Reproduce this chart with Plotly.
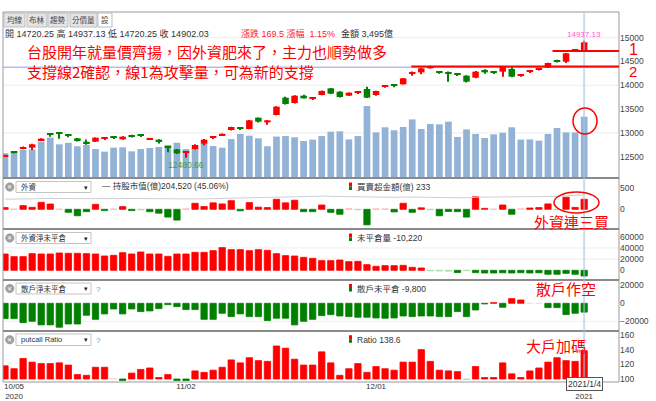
import plotly.graph_objects as go

# ---------------- data ----------------
x_ticks = [1, 20, 41, 64]
x_tick_labels = ["10/05<br>2020", "11/02", "12/01", " <br>2021"]
last_date = "2021/1/4"

price_ticks = [12500, 13000, 13500, 14000, 14500, 15000]

price_open = [12510, 12600, 12662, 12690, 12844, 12975, 12990, 12945, 12886, 12815,
              12815, 12880, 12900, 12865, 12950, 12945, 12870, 12858, 12695, 12655,
              12580, 12662, 12774, 12905, 12955, 13061, 13098, 13082, 13320, 13222,
              13376, 13740, 13628, 13782, 13712, 13796, 13936, 13866, 13782, 13845,
              13922, 13796, 13975, 14000, 14020, 14240, 14272, 14356, 14280, 14245,
              14235, 14202, 14160, 14321, 14268, 14286, 14342, 14210, 14280, 14335,
              14370, 14515, 14496, 14730, 14720.25]
price_close = [12525, 12590, 12704, 12760, 12879, 12968, 12978, 12935, 12830, 12775,
               12900, 12890, 12893, 12921, 12915, 12938, 12885, 12810, 12688, 12570,
               12595, 12746, 12858, 12915, 12970, 13124, 13090, 13264, 13236, 13264,
               13551, 13607, 13782, 13726, 13722, 13880, 13824, 13754, 13845, 13855,
               13740, 13880, 13990, 13992, 14146, 14252, 14356, 14405, 14272, 14237,
               14230, 14076, 14286, 14272, 14262, 14391, 14181, 14220, 14290, 14345,
               14468, 14505, 14671, 14735, 14902.03]
price_high = [12540, 12620, 12715, 12770, 12890, 12990, 12995, 12955, 12895, 12860,
              12905, 12900, 12915, 12930, 12960, 12960, 12895, 12865, 12700, 12660,
              12600, 12760, 12870, 12925, 12990, 13130, 13120, 13270, 13325, 13270,
              13560, 13760, 13790, 13800, 13735, 13890, 13945, 13875, 13850, 13865,
              13970, 13885, 14000, 14025, 14155, 14290, 14365, 14410, 14300, 14290,
              14245, 14210, 14300, 14335, 14280, 14400, 14380, 14230, 14310, 14360,
              14475, 14535, 14680, 14750, 14937.13]
price_low = [12500, 12570, 12655, 12640, 12835, 12920, 12875, 12910, 12820, 12750,
             12810, 12870, 12880, 12855, 12905, 12920, 12860, 12780, 12595, 12555,
             12480.66, 12650, 12740, 12870, 12945, 13050, 13060, 13075, 13220, 13170,
             13370, 13595, 13620, 13720, 13700, 13790, 13815, 13745, 13775, 13835,
             13735, 13780, 13950, 13960, 14015, 14200, 14230, 14350, 14240, 14076,
             14215, 14060, 14150, 14240, 14255, 14180, 14170, 14180, 14270, 14310,
             14365, 14480, 14470, 14700, 14720.25]
volume = [1410, 1460, 1600, 1630, 2070, 2300, 1920, 2010, 1810, 1880,
          1650, 1500, 1730, 1750, 1520, 1650, 1710, 1770, 1880, 2010,
          1650, 1690, 1980, 1820, 1730, 2220, 2510, 2410, 2260, 1810,
          2360, 2390, 2320, 2110, 2190, 2390, 2640, 2660, 2200, 2390,
          4100, 2600, 2890, 2720, 2910, 3340, 2790, 3080, 3060, 3210,
          2340, 2770, 2510, 2280, 2490, 2580, 2890, 2190, 2200, 2130,
          2510, 2850, 2600, 2600, 3495]

foreign_net = [40, 5, 85, 46, 162, 123, 3, -70, -150, -55,
               115, -30, 4, 62, -30, -10, -55, -90, -180, -250,
               12, 140, 65, 150, 125, 200, -35, 155, 50, 40,
               232, 150, 210, -55, -55, 100, -70, -115, 15, -10,
               -360, 10, 10, -60, 140, -70, 35, -10, -150, -50,
               -55, -180, 290, 22, 4, 100, -115, 10, 30, 40,
               125, -10, 280, 45, 233]
foreign_hold = [186500, 186000, 187200, 187800, 189500, 190200, 189800, 189500, 188900, 188400,
                189200, 188900, 189000, 189600, 189300, 189100, 188600, 188000, 186900, 185200,
                185100, 186800, 187500, 189000, 190000, 191900, 191500, 193200, 193600, 194000,
                196400, 197800, 199600, 199000, 198500, 199600, 198800, 197900, 198100, 198000,
                194500, 194700, 194900, 194500, 196000, 195500, 195900, 195700, 194200, 193900,
                193600, 192000, 195000, 195200, 195300, 196300, 195300, 195500, 196000, 196800,
                198300, 198400, 201300, 202100, 204520]
foreign_oi = [29150, 24400, 24400, 29750, 29150, 29150, 30940, 30350, 30350, 29750,
              29150, 25600, 26800, 31500, 29150, 32700, 29150, 29150, 25000, 29150,
              29150, 32100, 32100, 35100, 40500, 36900, 36900, 35100, 36900, 35700,
              29750, 26200, 25600, 23200, 21400, 17250, 17250, 18400, 15500, 16000,
              10100, 7100, 8300, 8300, 8900, 5350, 4150, -800, -1200, -1500,
              -4000, -500, -4200, -4800, -4800, -4500, -4800, -4300, -4800, -4500,
              -7100, -7100, -5400, -7100, -10220]
retail_oi = [-17000, -17000, -21500, -20000, -24000, -24000, -26600, -23000, -23000, -13300,
             -17800, -11800, -6300, -11800, -6300, -9200, -8500, -5900, -1500, -3700,
             -7000, -7000, -17800, -17800, -11100, -14800, -11800, -14800, -14800, -19200,
             -16600, -16600, -24000, -20000, -17800, -13700, -12600, -14100, -14800, -15500,
             -15500, -16300, -16600, -16300, -14100, -14800, -14100, -14100, -14800, -14800,
             -9200, -14800, -7400, -700, 700, -4400, 5200, 3700, 100, 100,
             -4800, -4800, -12600, -11100, -9800]
pc_ratio = [118, 114, 128, 123, 121, 121, 122, 119, 106, 105,
            116, 116, 100.4, 98, 108, 113, 115, 102, 106, 98,
            98, 111, 109, 112, 116, 126, 122, 129, 125, 124,
            145, 142, 127, 119, 119, 137, 122, 105, 114, 121,
            109, 117, 114, 112, 123, 123, 140, 124, 112, 111,
            110, 99.4, 117, 102, 102, 122, 107, 102, 111, 115,
            123, 129, 125, 124, 138.6]

# ---------------- geometry helpers ----------------
W_PX, H_PX = 656, 401
L, R, T, B = 3, 619, 28, 382
PW, PH = R - L, B - T


def px(x):
    return (x - L) / PW


def py(y):
    return (B - y) / PH


RED, GREEN = "#ff0000", "#008000"
idx = list(range(len(price_open)))

fig = go.Figure()

# volume (behind candles)
fig.add_trace(go.Bar(x=idx, y=volume, yaxis="y", width=0.74,
                     marker=dict(color="#92b2d6", line=dict(width=0)), hoverinfo="skip"))

# candles drawn as wick + body bars on the price axis
up = [c >= o for o, c in zip(price_open, price_close)]
c_col = [RED if u else GREEN for u in up]
fig.add_trace(go.Bar(x=idx, y=[h - l for h, l in zip(price_high, price_low)], base=price_low,
                     yaxis="y6", width=0.12, marker=dict(color=c_col, line=dict(width=0))))
fig.add_trace(go.Bar(x=idx, y=[max(abs(c - o), 25) for o, c in zip(price_open, price_close)],
                     base=[min(o, c) for o, c in zip(price_open, price_close)],
                     yaxis="y6", width=0.72, marker=dict(color=c_col, line=dict(width=0))))


def colors(vals, thr, zero=0, light_pos="#ffb6b6", light_neg="#a6d8a6"):
    out = []
    for v in vals:
        d = v - zero
        if d >= thr:
            out.append(RED)
        elif d >= 0:
            out.append(light_pos)
        elif d <= -thr:
            out.append(GREEN)
        else:
            out.append(light_neg)
    return out


fc = colors(foreign_net, 20)
fig.add_trace(go.Bar(x=idx, y=foreign_net, yaxis="y2", width=0.7,
                     marker=dict(color=fc, line=dict(color=fc, width=0.8))))
fig.add_trace(go.Scatter(x=idx, y=foreign_hold, yaxis="y7", mode="lines",
                         line=dict(color="#cfcfcf", width=1)))
oc = colors(foreign_oi, 2000)
fig.add_trace(go.Bar(x=idx, y=foreign_oi, yaxis="y3", width=0.7,
                     marker=dict(color=oc, line=dict(color=oc, width=0.8))))
rc = colors(retail_oi, 300, light_pos="#e2e2e2", light_neg="#e2e2e2")
fig.add_trace(go.Bar(x=idx, y=retail_oi, yaxis="y4", width=0.7,
                     marker=dict(color=rc, line=dict(color=rc, width=0.8))))
pc = colors(pc_ratio, 1, zero=100, light_pos="#f6d4d4")
fig.add_trace(go.Bar(x=idx, y=[v - 100 for v in pc_ratio], base=100, yaxis="y5", width=0.7,
                     marker=dict(color=pc, line=dict(color=pc, width=0.8))))

# ---------------- axes ----------------
d_p = py(178)
d_2 = py(229)
d_3 = py(280)
d_4 = py(331)

tickfont = dict(size=8.5, color="#444", family="Liberation Sans, Arial")


def yax(domain, rng, tickvals, **kw):
    d = dict(range=rng, tickvals=tickvals, side="right", anchor="x",
             showgrid=False, zeroline=False, showline=False, ticks="", automargin=False,
             tickfont=tickfont, fixedrange=True, exponentformat="none",
             separatethousands=False, tickformat="d")
    if domain is not None:
        d["domain"] = domain
    d.update(kw)
    return d


fig.update_layout(
    template="none",
    width=W_PX, height=H_PX,
    margin=dict(l=L, r=W_PX - R, t=T, b=H_PX - B, autoexpand=False),
    paper_bgcolor="white", plot_bgcolor="white",
    showlegend=False, barmode="overlay",
    font=dict(family="Liberation Sans, Arial, Noto Sans CJK TC", size=9, color="#333"),
    xaxis=dict(domain=[0, 1], range=[-0.221, 67.85], anchor="y5", tickvals=x_ticks,
               ticktext=x_tick_labels, showgrid=False, zeroline=False, showline=False,
               ticks="", automargin=False, tickfont=dict(size=8, color="#333"),
               ticklabelstandoff=-2, fixedrange=True),
    yaxis=dict(domain=[d_p, 1], range=[0, 8550], visible=False, fixedrange=True),
    yaxis6=yax(None, [12053, 15203], price_ticks, overlaying="y"),
    yaxis2=yax([d_2, d_p], [-456, 725], [0, 500]),
    yaxis7=dict(overlaying="y2", range=[58180, 277690], visible=False, fixedrange=True),
    yaxis3=yax([d_3, d_2], [-17320, 73760], [0, 20000, 40000, 60000]),
    yaxis4=yax([d_4, d_3], [-30780, 25890], [-20000, 0, 20000]),
    yaxis5=yax([0, d_4], [95.9, 165.4], [100, 120, 140, 160]),
)

shapes = []
ann = []

# faint grid lines
for v in [13000, 14000, 15000]:
    shapes.append(dict(type="line", xref="paper", x0=0, x1=1, yref="y6", y0=v, y1=v,
                       line=dict(color="#ececec", width=1), layer="below"))
for v in [20000, 40000]:
    shapes.append(dict(type="line", xref="paper", x0=0, x1=1, yref="y3", y0=v, y1=v,
                       line=dict(color="#eeeeee", width=1), layer="below"))
for v in [-20000]:
    shapes.append(dict(type="line", xref="paper", x0=0, x1=1, yref="y4", y0=v, y1=v,
                       line=dict(color="#eeeeee", width=1), layer="below"))

# horizontal crosshair line
shapes.append(dict(type="line", xref="paper", x0=0, x1=1, yref="y6", y0=14377, y1=14377,
                   line=dict(color="rgba(150,170,230,0.75)", width=1.5), layer="below"))

# frame and separators
shapes.append(dict(type="rect", xref="paper", yref="paper", x0=px(3), x1=px(619),
                   y0=py(382), y1=py(12), line=dict(color="#9a9a9a", width=1)))
for yy in [178, 229, 280, 331]:
    shapes.append(dict(type="line", xref="paper", yref="paper", x0=px(3), x1=px(619),
                       y0=py(yy), y1=py(yy), line=dict(color="#8a8a8a", width=2)))

# vertical crosshair at last bar
shapes.append(dict(type="line", xref="x", x0=64, x1=64, yref="paper", y0=py(386), y1=py(12),
                   line=dict(color="rgba(170,195,230,0.6)", width=2)))

# red support lines
shapes.append(dict(type="line", xref="x", x0=60.5, x1=67.85, yref="y6", y0=14720, y1=14720,
                   line=dict(color=RED, width=2)))
shapes.append(dict(type="line", xref="x", x0=44.9, x1=67.85, yref="y6", y0=14395, y1=14395,
                   line=dict(color=RED, width=2)))

# red circles
shapes.append(dict(type="circle", xref="paper", yref="paper", x0=px(573), x1=px(597),
                   y0=py(134), y1=py(108), line=dict(color=RED, width=1.5)))
shapes.append(dict(type="circle", xref="paper", yref="paper", x0=px(554), x1=px(599),
                   y0=py(213), y1=py(192), line=dict(color=RED, width=1.5)))


def text(x, y, s, size=8, color="#333", xanchor="left", family=None, **kw):
    d = dict(xref="paper", yref="paper", x=px(x), y=py(y), text=s, showarrow=False,
             xanchor=xanchor, yanchor="middle", font=dict(size=size, color=color))
    if family:
        d["font"]["family"] = family
    d.update(kw)
    ann.append(d)


CJK = "Noto Sans CJK TC"

# tabs
tabs = [("均線", 4, 25), ("布林", 27, 47), ("趨勢", 48, 68), ("分價量", 70, 97), ("設", 98, 112)]
for i, (t, x0, x1) in enumerate(tabs):
    shapes.append(dict(type="rect", xref="paper", yref="paper", x0=px(x0), x1=px(x1),
                       y0=py(27), y1=py(13), fillcolor="#ffffff" if i == 4 else "#e4e4e4",
                       line=dict(color="#bdbdbd", width=1)))
    text((x0 + x1) / 2, 20, t, size=7.5, xanchor="center", family=CJK, color="#444")

# info line
nb = "\u00a0"
text(3, 33.5, "開 14720.25 高 14937.13 低 14720.25 收 14902.03", size=9, color="#333")
text(239, 33.5, f"漲跌 169.5 漲幅{nb}{nb}1.15%", size=9, color="#ff2020")
text(339, 33.5, "金額 3,495億", size=9, color="#333")

# price annotations
ann.append(dict(xref="x", yref="y6", x=64, y=14937.13, text="14937.13", showarrow=False,
                xanchor="center", yanchor="bottom", font=dict(size=8, color="#ff5ac8")))
ann.append(dict(xref="x", yref="y6", x=20, y=12480.66, text="12480.66", showarrow=False,
                xanchor="center", yanchor="top", font=dict(size=8.5, color="#3f9a3f")))

text(25, 51, "台股開年就量價齊揚，因外資肥來了，主力也順勢做多", size=15, color=RED, family=CJK)
text(25, 71, "支撐線2確認，線1為攻擊量，可為新的支撐", size=15, color=RED, family=CJK)
text(633, 50, "1", size=16, color=RED, xanchor="center")
text(633, 72, "2", size=15, color=RED, xanchor="center")

text(571, 222, "外資連三買", size=15, color=RED, xanchor="center", family=CJK)
text(566, 288, "散戶作空", size=15, color=RED, xanchor="center", family=CJK)
text(556, 345, "大戶加碼", size=15, color=RED, xanchor="center", family=CJK)

# panel headers
headers = [
    (181.5, 192.5, "外資", "買賣超金額(億) 233", False),
    (232.5, 243.5, "外資淨未平倉", "未平倉量 -10,220", False),
    (283, 294, "散戶淨未平倉", "散戶未平倉 -9,800", True),
    (334, 345.5, "putcall Ratio", "Ratio 138.6", True),
]
for (y0, y1, name, leg, q) in headers:
    yc = (y0 + y1) / 2
    # close icon
    shapes.append(dict(type="circle", xref="paper", yref="paper", x0=px(5.5), x1=px(14),
                       y0=py(yc + 4.2), y1=py(yc - 4.2), fillcolor="#a0a0a0",
                       line=dict(color="#8a8a8a", width=0.5)))
    text(9.8, yc, "✕", size=5.5, color="white", xanchor="center")
    # dropdown
    shapes.append(dict(type="rect", xref="paper", yref="paper", x0=px(16), x1=px(91),
                       y0=py(y1), y1=py(y0), fillcolor="white",
                       line=dict(color="#c4c4c4", width=1)))
    text(19, yc, name, size=7.5, color="#333", family=f"Liberation Sans, {CJK}")
    text(86, yc, "▾", size=7, color="#222", xanchor="center")
    if q:
        text(98, yc + 0.5, "?", size=8, color="#5b9bd5", xanchor="center")
    # legend icon
    ly = yc - 0.5
    shapes.append(dict(type="rect", xref="paper", yref="paper", x0=px(349), x1=px(352),
                       y0=py(ly), y1=py(ly - 4), fillcolor=RED, line=dict(width=0)))
    shapes.append(dict(type="rect", xref="paper", yref="paper", x0=px(349), x1=px(352),
                       y0=py(ly + 3.5), y1=py(ly), fillcolor=GREEN, line=dict(width=0)))
    text(355, yc, leg, size=8.5, color="#333", family=f"Liberation Sans, {CJK}")

text(100, 186.5, "— 持股市值(億)204,520 (45.06%)", size=8.5, color="#333",
     family=f"Liberation Sans, {CJK}")

# date box under the crosshair
ann.append(dict(xref="x", yref="paper", x=64, y=py(384.5), text=last_date, showarrow=False,
                xanchor="center", yanchor="middle", font=dict(size=8.5, color="#333"),
                bgcolor="white", bordercolor="#555", borderwidth=1, borderpad=1))

fig.update_layout(shapes=shapes, annotations=ann)
fig.write_html("out.html", config={"displayModeBar": False})
